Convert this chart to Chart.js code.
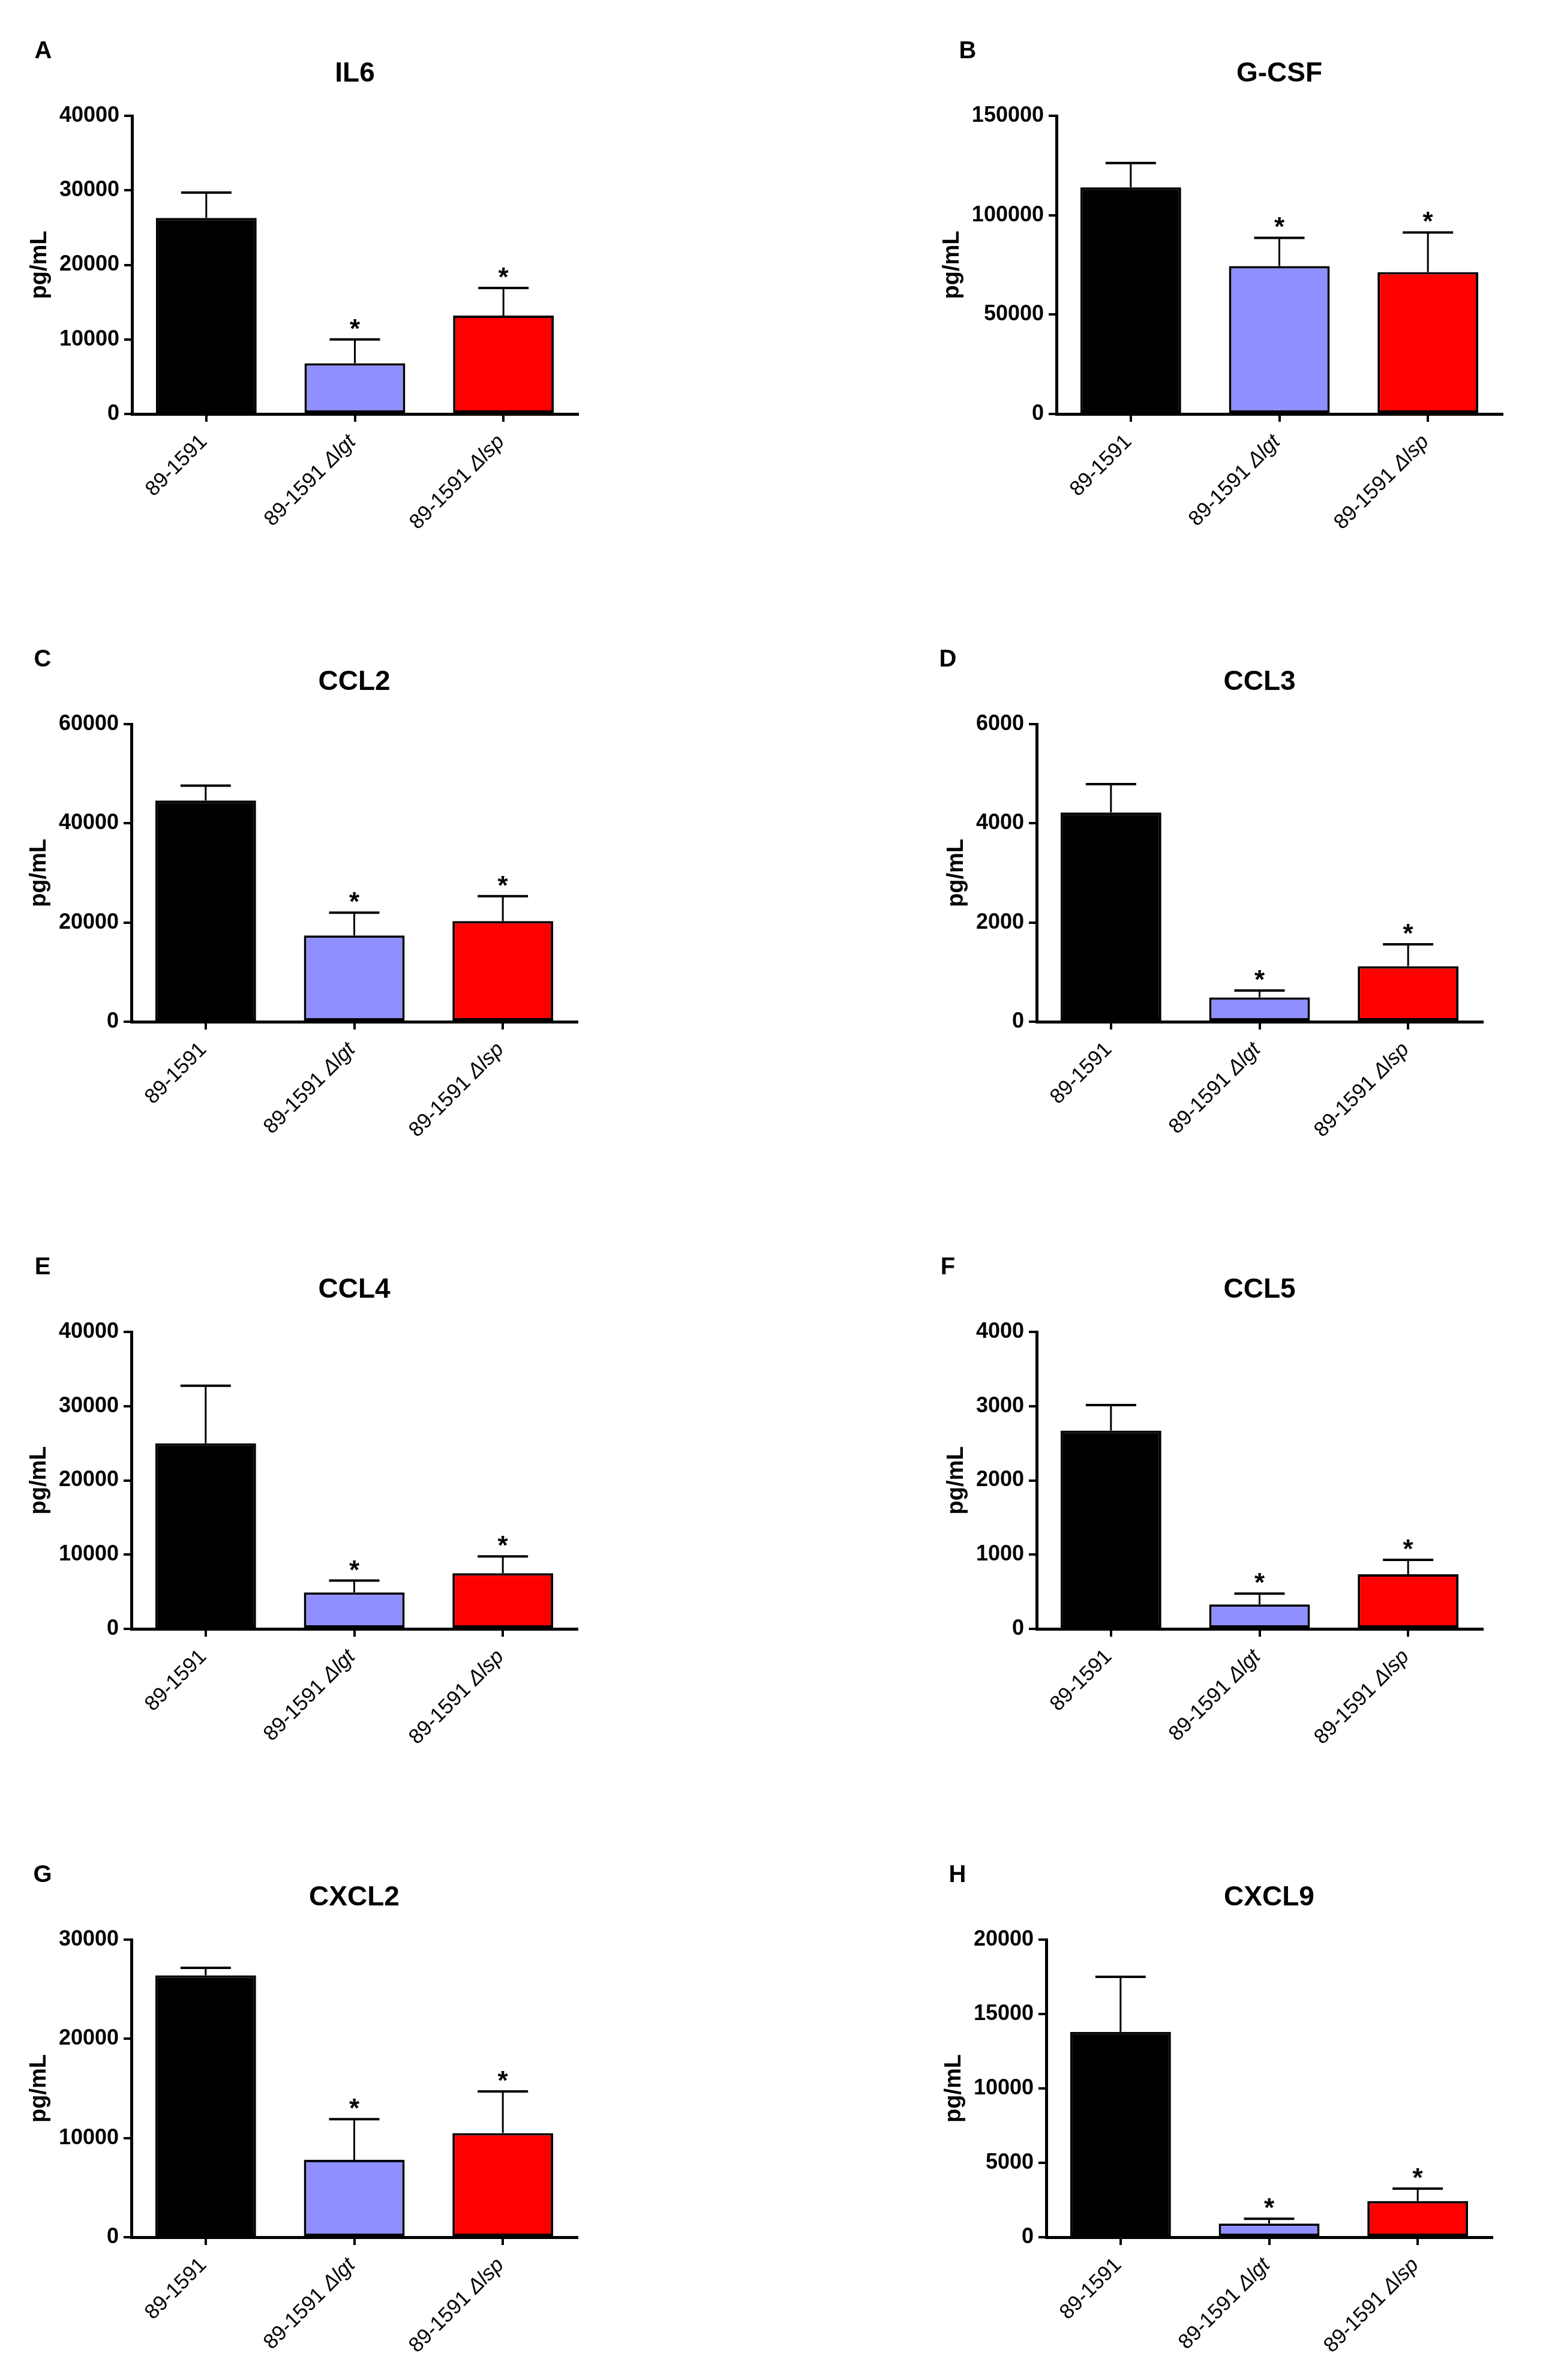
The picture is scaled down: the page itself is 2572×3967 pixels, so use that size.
<!DOCTYPE html>
<html>
<head>
<meta charset="utf-8">
<script src="https://cdn.jsdelivr.net/npm/chart.js@4.4.1/dist/chart.umd.min.js"></script>
<style>
html,body{margin:0;padding:0;background:#fff;overflow:hidden;width:2572px;height:3967px;position:relative}
.p{position:absolute;width:1286px;height:925px}
.p canvas{display:block}
</style>
</head>
<body>
<script>
// ---------------- DATA ----------------
const categories = ["89-1591", "89-1591 Δlgt", "89-1591 Δlsp"];
const barColors = ["#000000", "#8F8FFF", "#FF0000"];
const yLabel = "pg/mL";

const meanIL6 = [26300, 6800, 13200];
const upperIL6 = [29700, 10000, 16900];
const sigIL6 = ["", "*", "*"];
const ticksIL6 = [0, 10000, 20000, 30000, 40000];

const meanGCSF = [114000, 74400, 71400];
const upperGCSF = [126200, 88600, 91300];
const sigGCSF = ["", "*", "*"];
const ticksGCSF = [0, 50000, 100000, 150000];

const meanCCL2 = [44600, 17400, 20300];
const upperCCL2 = [47600, 22000, 25300];
const sigCCL2 = ["", "*", "*"];
const ticksCCL2 = [0, 20000, 40000, 60000];

const meanCCL3 = [4220, 490, 1120];
const upperCCL3 = [4790, 630, 1560];
const sigCCL3 = ["", "*", "*"];
const ticksCCL3 = [0, 2000, 4000, 6000];

const meanCCL4 = [25000, 4900, 7500];
const upperCCL4 = [32750, 6500, 9750];
const sigCCL4 = ["", "*", "*"];
const ticksCCL4 = [0, 10000, 20000, 30000, 40000];

const meanCCL5 = [2670, 330, 735];
const upperCCL5 = [3015, 475, 930];
const sigCCL5 = ["", "*", "*"];
const ticksCCL5 = [0, 1000, 2000, 3000, 4000];

const meanCXCL2 = [26400, 7800, 10500];
const upperCXCL2 = [27150, 11900, 14700];
const sigCXCL2 = ["", "*", "*"];
const ticksCXCL2 = [0, 10000, 20000, 30000];

const meanCXCL9 = [13800, 920, 2430];
const upperCXCL9 = [17500, 1240, 3270];
const sigCXCL9 = ["", "*", "*"];
const ticksCXCL9 = [0, 5000, 10000, 15000, 20000];

const panelLetters = ["A", "B", "C", "D", "E", "F", "G", "H"];
const panelTitles = ["IL6", "G-CSF", "CCL2", "CCL3", "CCL4", "CCL5", "CXCL2", "CXCL9"];

// ---------------- LAYOUT (positions, not data) ----------------
const FONT = '"Liberation Sans", Arial, Helvetica, sans-serif';
const PW = 1286, PH = 925, XH = 20, PLOTW = 743;
const layout = [
  {col:0, axisX:220,  top:193,  zero:690},
  {col:1, axisX:1761, top:193,  zero:690},
  {col:0, axisX:219,  top:1207, zero:1703},
  {col:1, axisX:1728, top:1207, zero:1703},
  {col:0, axisX:219,  top:2220, zero:2715},
  {col:1, axisX:1728, top:2220, zero:2715},
  {col:0, axisX:219,  top:3233, zero:3729},
  {col:1, axisX:1744, top:3233, zero:3729}
];

const panels = [
  {mean:meanIL6,  upper:upperIL6,  sig:sigIL6,  ticks:ticksIL6},
  {mean:meanGCSF, upper:upperGCSF, sig:sigGCSF, ticks:ticksGCSF},
  {mean:meanCCL2, upper:upperCCL2, sig:sigCCL2, ticks:ticksCCL2},
  {mean:meanCCL3, upper:upperCCL3, sig:sigCCL3, ticks:ticksCCL3},
  {mean:meanCCL4, upper:upperCCL4, sig:sigCCL4, ticks:ticksCCL4},
  {mean:meanCCL5, upper:upperCCL5, sig:sigCCL5, ticks:ticksCCL5},
  {mean:meanCXCL2,upper:upperCXCL2,sig:sigCXCL2,ticks:ticksCXCL2},
  {mean:meanCXCL9,upper:upperCXCL9,sig:sigCXCL9,ticks:ticksCXCL9}
];

Chart.defaults.font.family = FONT;
Chart.defaults.color = '#000';

const decorPlugin = {
  id: 'decor',
  afterDatasetsDraw(chart, args, opts) {
    const ctx = chart.ctx;
    const ys = chart.scales.y;
    const meta = chart.getDatasetMeta(0);
    ctx.save();
    ctx.strokeStyle = '#000';
    ctx.fillStyle = '#000';
    meta.data.forEach((el, i) => {
      const yTop = ys.getPixelForValue(opts.upper[i]);
      const yBar = el.y;
      const capW = el.width * 0.5;
      ctx.lineCap = 'butt';
      ctx.lineWidth = 3;
      ctx.beginPath(); ctx.moveTo(el.x, yBar); ctx.lineTo(el.x, yTop); ctx.stroke();
      ctx.lineWidth = 4;
      ctx.beginPath(); ctx.moveTo(el.x - capW/2, yTop); ctx.lineTo(el.x + capW/2, yTop); ctx.stroke();
      if (opts.sig[i]) {
        ctx.font = 'bold 44px ' + FONT;
        ctx.textAlign = 'center';
        ctx.textBaseline = 'alphabetic';
        ctx.fillText(opts.sig[i], el.x, yTop - 3);
      }
    });
    ctx.restore();
  },
  afterDraw(chart, args, opts) {
    const ctx = chart.ctx;
    const ca = chart.chartArea;
    const xs = chart.scales.x;
    ctx.save();
    ctx.fillStyle = '#000';
    // title
    ctx.font = 'bold 46px ' + FONT;
    ctx.textAlign = 'center';
    ctx.textBaseline = 'alphabetic';
    ctx.fillText(opts.title, (ca.left + ca.right) / 2, ca.top - 57);
    // letter
    ctx.font = 'bold 40px ' + FONT;
    ctx.fillText(opts.letter, ca.left - 148, ca.top - 96);
    // y title
    ctx.font = 'bold 36px ' + FONT;
    const maxW = Math.max(...opts.ticks.map(t => ctx.measureText(String(t)).width));
    const tx = ca.left - 21 - maxW - 32;
    ctx.save();
    ctx.translate(tx, (ca.top + ca.bottom) / 2);
    ctx.rotate(-Math.PI / 2);
    ctx.font = 'bold 38px ' + FONT;
    ctx.textAlign = 'center';
    ctx.textBaseline = 'middle';
    ctx.fillText(yLabel, 0, 0);
    ctx.restore();
    // x labels
    const XF = 35;
    categories.forEach((lab, i) => {
      const x = xs.getPixelForValue(i);
      const k = lab.indexOf('Δ');
      const normal = k >= 0 ? lab.slice(0, k) : lab;
      const ital = k >= 0 ? lab.slice(k) : '';
      ctx.save();
      ctx.translate(x + 3, ca.bottom + 48);
      ctx.rotate(-Math.PI / 4);
      ctx.textBaseline = 'alphabetic';
      ctx.textAlign = 'left';
      ctx.font = 'italic ' + XF + 'px ' + FONT;
      const wi = ital ? ctx.measureText(ital).width : 0;
      ctx.font = XF + 'px ' + FONT;
      const wn = ctx.measureText(normal).width;
      ctx.fillText(normal, -(wn + wi), 0);
      if (ital) {
        ctx.font = 'italic ' + XF + 'px ' + FONT;
        ctx.fillText(ital, -wi, 0);
      }
      ctx.restore();
    });
    ctx.restore();
  }
};

panels.forEach((p, idx) => {
  const L = layout[idx];
  const left = L.col * PW;
  const top = L.zero - 690;
  const div = document.createElement('div');
  div.className = 'p';
  div.style.left = left + 'px';
  div.style.top = top + 'px';
  const cv = document.createElement('canvas');
  cv.width = PW; cv.height = PH;
  cv.style.width = PW + 'px'; cv.style.height = PH + 'px';
  div.appendChild(cv);
  document.body.appendChild(div);
  const axisL = L.axisX - left;
  const topL = L.top - top;
  const zeroL = L.zero - top;
  const ymax = p.ticks[p.ticks.length - 1];
  const step = p.ticks[1] - p.ticks[0];
  new Chart(cv, {
    type: 'bar',
    data: {
      labels: categories,
      datasets: [{
        data: p.mean,
        backgroundColor: barColors,
        borderColor: '#000',
        borderWidth: 4,
        borderSkipped: false,
        categoryPercentage: 1,
        barPercentage: 0.678
      }]
    },
    plugins: [decorPlugin],
    options: {
      responsive: false,
      animation: false,
      devicePixelRatio: 1,
      layout: {
        autoPadding: false,
        padding: {left: 0, top: topL, right: PW - axisL - PLOTW, bottom: PH - zeroL - XH}
      },
      plugins: {
        legend: {display: false},
        tooltip: {enabled: false},
        title: {display: false},
        decor: {upper: p.upper, sig: p.sig, title: panelTitles[idx], letter: panelLetters[idx], ticks: p.ticks}
      },
      scales: {
        x: {
          type: 'category',
          offset: true,
          grid: {display: true, drawOnChartArea: false, drawTicks: true, tickLength: 13, lineWidth: 4, color: '#000', offset: false},
          border: {display: true, width: 5, color: '#000'},
          ticks: {display: false},
          afterFit(s) { s.height = XH; }
        },
        y: {
          min: 0, max: ymax,
          grid: {display: true, drawOnChartArea: false, drawTicks: true, tickLength: 13, lineWidth: 4, color: '#000'},
          border: {display: true, width: 5, color: '#000'},
          ticks: {
            stepSize: step,
            padding: 8,
            color: '#000',
            font: {size: 36, weight: 'bold', family: FONT},
            callback: v => String(v)
          },
          afterFit(s) { s.width = axisL; }
        }
      }
    }
  });
});
</script>
</body>
</html>
